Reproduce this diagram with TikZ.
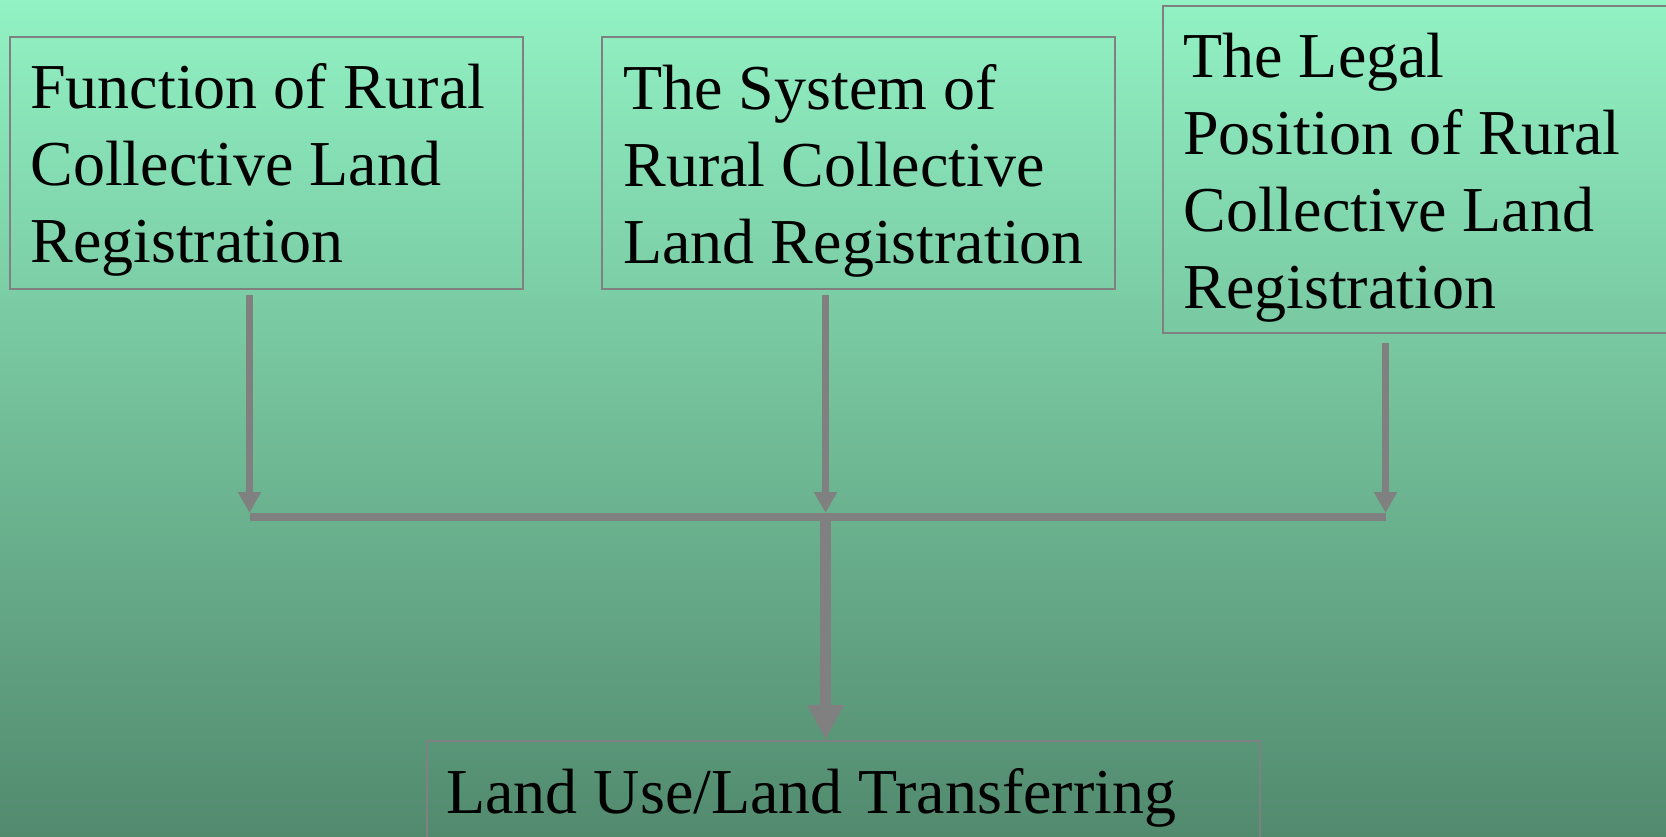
\documentclass[tikz,border=0pt]{standalone}
\usepackage{fontspec}
\setmainfont{Liberation Serif}
\usetikzlibrary{arrows.meta}
\definecolor{bgtop}{RGB}{146,242,196}
\definecolor{bgbot}{RGB}{82,138,110}
\definecolor{linegray}{RGB}{128,128,128}
\tikzset{
  boxnode/.style={draw=linegray, line width=1pt, rectangle, inner sep=0pt, anchor=north west},
  txt/.style={anchor=north west, inner sep=0pt, align=left, text=black, font=\fontsize{32}{38.5}\selectfont},
  thinarr/.style={draw=linegray, line width=3.8pt, -{Triangle[width=11pt,length=10.5pt]}},
  bararr/.style={draw=linegray, line width=4pt},
  bigarr/.style={draw=linegray, line width=5.25pt, -{Triangle[width=17pt,length=17.5pt]}}
}
\begin{document}
\begin{tikzpicture}[x=0.5pt,y=-0.5pt]
\useasboundingbox (0,0) rectangle (1666,836);
\clip (0,0) rectangle (1666,836);
\shade[top color=bgtop, bottom color=bgbot] (0,0) rectangle (1666,836);

% boxes
\node[boxnode, minimum width=256.75pt, minimum height=126pt] (b1) at (8.5,36) {};
\node[boxnode, minimum width=256.5pt, minimum height=126pt] (b2) at (601,36) {};
\node[boxnode, minimum width=260pt, minimum height=163.75pt] (b3) at (1161.5,4.5) {};
\node[boxnode, minimum width=416.25pt, minimum height=80pt] (b4) at (426,740) {};

% texts
\node[txt] (t1) at (30,54) {\strut Function of Rural\\Collective Land\\Registration};
\node[txt] (t2) at (623,55) {\strut The System of\\Rural Collective\\Land Registration};
\node[txt] (t3) at (1183,23) {\strut The Legal\\Position of Rural\\Collective Land\\Registration};
\node[txt] (t4) at (446,759) {\strut Land Use/Land Transferring};

% junction points on the bar
\coordinate (j1) at (249.5,517);
\coordinate (j2) at (825.5,517);
\coordinate (j3) at (1385.5,517);

% connectors
\draw[thinarr, shorten <=2.5pt, shorten >=2pt] (b1.south -| j1) -- (j1);
\draw[thinarr, shorten <=2.5pt, shorten >=2pt] (b2.south -| j2) -- (j2);
\draw[thinarr, shorten <=4.5pt, shorten >=2pt] (b3.south -| j3) -- (j3);
\draw[bararr] (j1) -- (j3);
\draw[bigarr] (j2) -- (b4.north -| j2);
\end{tikzpicture}
\end{document}
